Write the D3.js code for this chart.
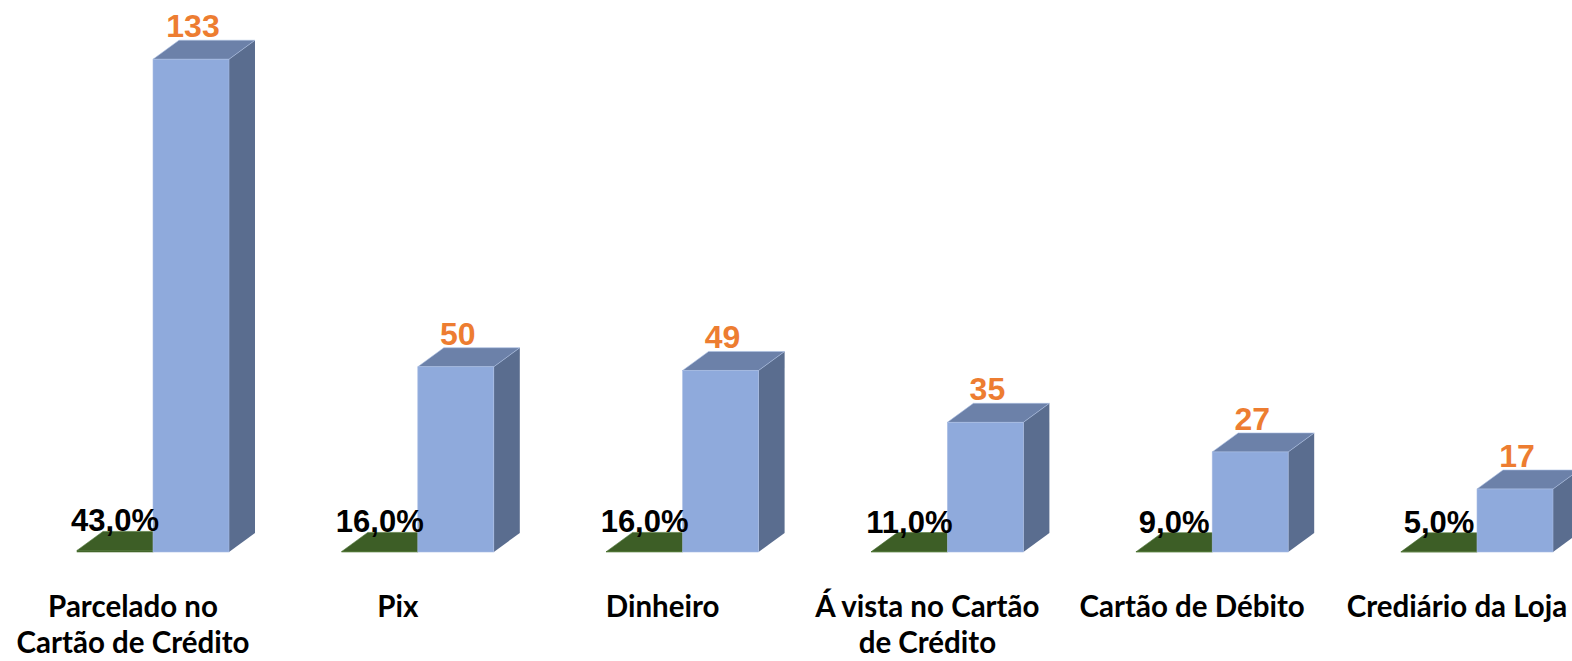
<!DOCTYPE html>
<html>
<head>
<meta charset="utf-8">
<script src="https://cdn.jsdelivr.net/npm/d3@7"></script>
<style>
  html, body { margin: 0; padding: 0; background: #fff; }
  svg { display: block; }
</style>
</head>
<body>
<svg id="chart" width="1572" height="661"></svg>
<script>
// Chart data
const categories = ["Parcelado no|Cartão de Crédito", "Pix", "Dinheiro", "Á vista no Cartão|de Crédito", "Cartão de Débito", "Crediário da Loja"];
const counts = [133, 50, 49, 35, 27, 17];
const percents = [43.0, 16.0, 16.0, 11.0, 9.0, 5.0];
const seriesKeys = ["pct", "count"];

const width = 1572;
const height = 661;
const depthX = 26;
const depthY = 19;
const baseY = 552;

const svg = d3.select("#chart");

const x0 = d3.scaleBand()
    .domain(categories)
    .range([0.6, 0.6 + 264.8 * categories.length])
    .padding(0);

// series offsets relative to the band centre
const x1 = d3.scaleBand()
    .domain(seriesKeys)
    .range([-56, 96])
    .padding(0);

const y = d3.scaleLinear()
    .domain([0, 140])
    .range([baseY, baseY - 140 * 3.705]);

const colours = {
    pct: { front: "#3f6128", top: "#3d5e26", side: "#34521f", edge: "#4e7334" },
    count: { front: "#8faadc", top: "#6c81a9", side: "#5a6d8f", edge: "#a9bde3" }
};

// draw one 3D box
function drawBox(g, left, w, top, c) {
    const bottom = baseY;
    g.append("path")
        .attr("d", `M${left + w},${bottom} L${left + w + depthX},${bottom - depthY} L${left + w + depthX},${top - depthY} L${left + w},${top} Z`)
        .attr("fill", c.side);
    g.append("path")
        .attr("d", `M${left},${top} L${left + depthX},${top - depthY} L${left + w + depthX},${top - depthY} L${left + w},${top} Z`)
        .attr("fill", c.top)
        .attr("stroke", c.edge)
        .attr("stroke-width", 0.6);
    g.append("rect")
        .attr("x", left)
        .attr("y", top)
        .attr("width", w)
        .attr("height", bottom - top)
        .attr("fill", c.front)
        .attr("stroke", c.edge)
        .attr("stroke-width", 0.6);
}

const groups = svg.selectAll("g.cat")
    .data(categories)
    .enter()
    .append("g")
    .attr("class", "cat");

groups.each(function (cat, i) {
    const g = d3.select(this);
    const centre = x0(cat) + x0.bandwidth() / 2;

    // percentage series (fraction on the same axis, so it is nearly flat)
    const pLeft = centre + x1("pct");
    const pTop = y(percents[i] / 100);
    drawBox(g, pLeft, x1.bandwidth(), pTop, colours.pct);

    // count series
    const cLeft = centre + x1("count");
    const cTop = y(counts[i]);
    drawBox(g, cLeft, x1.bandwidth(), cTop, colours.count);

    // count label
    g.append("text")
        .attr("x", cLeft + x1.bandwidth() / 2 + 2)
        .attr("y", cTop - 22)
        .attr("text-anchor", "middle")
        .attr("font-family", "'Liberation Sans', Arial, sans-serif")
        .attr("font-weight", "bold")
        .attr("font-size", "32px")
        .attr("fill", "#ed7d31")
        .text(counts[i]);

    // percentage label
    g.append("text")
        .attr("x", pLeft + x1.bandwidth() / 2)
        .attr("y", pTop - depthY)
        .attr("text-anchor", "middle")
        .attr("font-family", "'Liberation Sans', Arial, sans-serif")
        .attr("font-weight", "bold")
        .attr("font-size", "31px")
        .attr("fill", "#000")
        .text(d3.format(".1f")(percents[i]).replace(".", ",") + "%");

    // category label
    const lines = cat.split("|");
    const label = g.append("text")
        .attr("text-anchor", "middle")
        .attr("font-family", "Lato, 'Open Sans', sans-serif")
        .attr("font-weight", "bold")
        .attr("font-size", "29.5px")
        .attr("fill", "#000");
    lines.forEach((line, j) => {
        label.append("tspan")
            .attr("x", centre)
            .attr("y", 617 + j * 36)
            .text(line);
    });
});
</script>
</body>
</html>
